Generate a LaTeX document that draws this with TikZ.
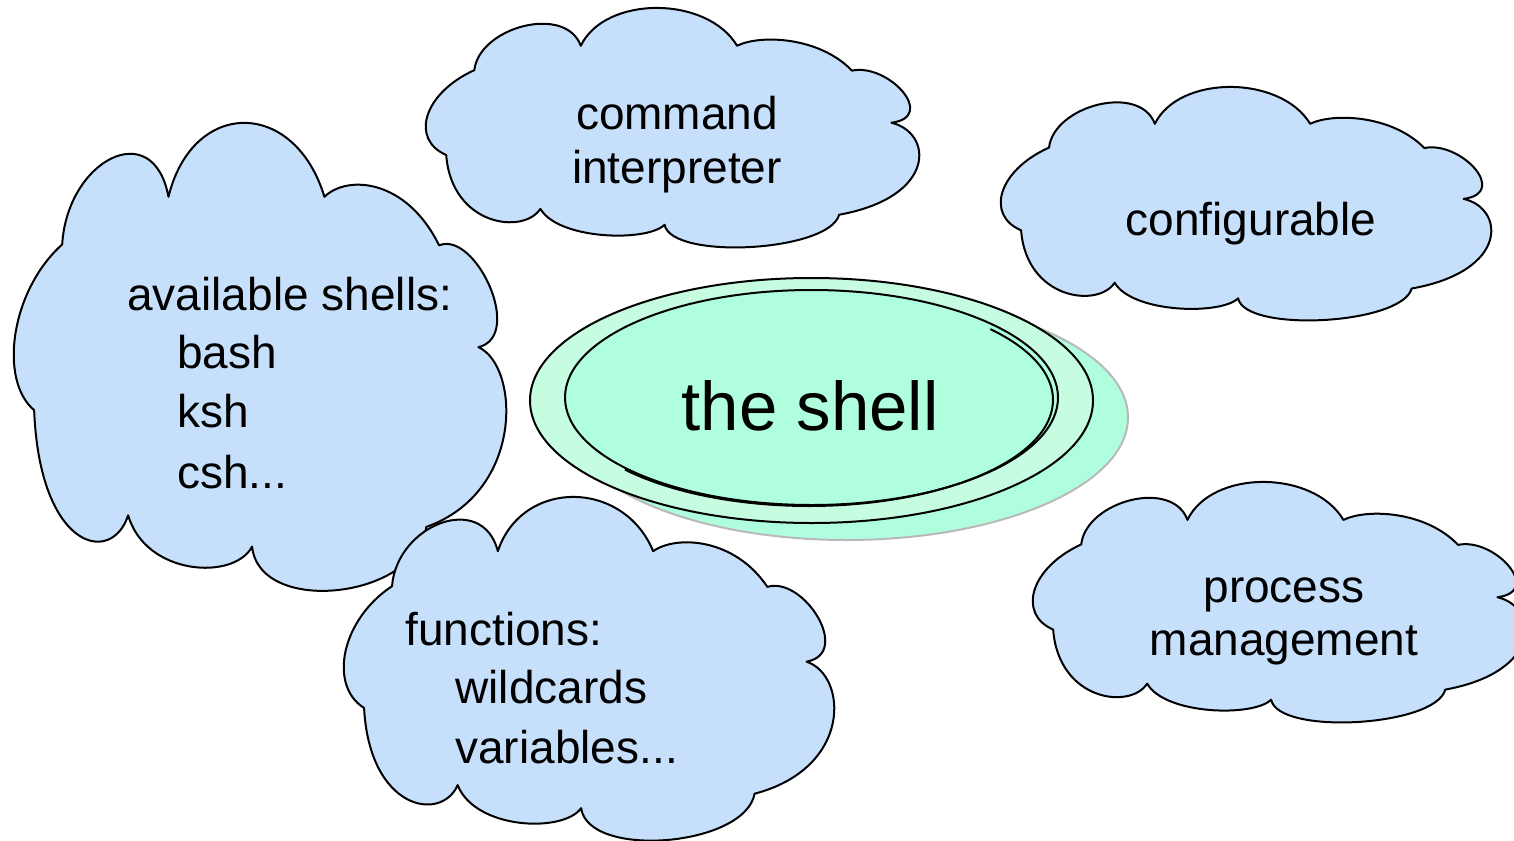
\documentclass[tikz,border=0pt]{standalone}
\usepackage{fontspec}
\setmainfont{Liberation Sans}
\definecolor{cloudblue}{RGB}{198,224,252}
\definecolor{shellgreen}{RGB}{175,254,222}
\definecolor{ringgreen}{RGB}{198,252,224}
\definecolor{shadowgray}{RGB}{185,185,185}
% cloud outline, scaled into the box with top left corner (#2,#3), size #4 x #5
\def\cloud[#1](#2,#3)(#4:#5){\draw[#1,shift={(#2,#3)},xscale=#4/100,yscale=#5/100]
	(10,26) .. controls (11,8) and (28.5,-1.7) .. (31.6,15.8)
	.. controls (36.5,-5.3) and (57.2,-5.3) .. (63.3,15.8)
	.. controls (68,11) and (80,12) .. (86.6,26.2)
	.. controls (94,23) and (104,45.6) .. (94.6,48)
	.. controls (103,52) and (104,79) .. (84,86.5)
	.. controls (82,102) and (50,105.6) .. (48.6,90.7)
	.. controls (45,98) and (27,97) .. (23.4,84)
	.. controls (20,95) and (5.4,91.2) .. (4.3,61.5)
	.. controls (-3,55) and (-0.4,35.8) .. (10,26) -- cycle;}
\tikzset{
	cloudline/.style={fill=cloudblue,draw=black,line width=1pt,line join=round},
	lbl/.style={font=\fontsize{23}{28}\selectfont,inner sep=0pt},
	biglbl/.style={font=\fontsize{34.5}{40}\selectfont,inner sep=0pt}
}

\begin{document}
\begin{tikzpicture}[x=0.5pt,y=-0.5pt]
	%%%%% START %%%%%
	\def\cx{811.5}
	\def\cy{399}
	\def\radout{281.5}
	\def\radin{246.5}
	\def\dx{35}
	\def\dy{17}

	\useasboundingbox (0,0) rectangle (1514,840);
	\clip (0,0) rectangle (1514,840);

	% clouds
	\cloud[cloudline](425,8)(493:239)
	\cloud[cloudline](1000,87)(490:233)
	\cloud[cloudline](13,123)(492:467)
	\cloud[cloudline](343,497)(490:343)
	\cloud[cloudline](1032,482)(492:240)

	% the shell
	\draw[shadowgray,line width=1pt,fill=shellgreen] (\cx+\dx,\cy+1.5+\dy) ellipse [x radius=\radout, y radius=122.5];
	\draw[line width=1pt,fill=ringgreen] (\cx,\cy+1.5) ellipse [x radius=\radout, y radius=122.5];
	\draw[line width=1pt,fill=shellgreen] (\cx,\cy-1.5) ellipse [x radius=\radin, y radius=107.5];
	\draw[line width=1pt] (\cx-2.5,\cy+1) ++(-42:244 and 106) arc [start angle=-42, end angle=139, x radius=244, y radius=106];

	% texts
	\node[lbl,anchor=base] (cmd) at (677,130) {command};
	\node[lbl,anchor=base] (interp) at (677,183) {interpreter};
	\node[lbl,anchor=base] (conf) at (1251,235) {configurable};
	\node[lbl,anchor=base west] (avail) at (127,310) {available shells:};
	\node[lbl,anchor=base west] (bash) at (177,368) {bash};
	\node[lbl,anchor=base west] (ksh) at (177,427) {ksh};
	\node[lbl,anchor=base west] (csh) at (177,488) {csh...};
	\node[lbl,anchor=base west] (func) at (405,645) {functions:};
	\node[lbl,anchor=base west] (wild) at (455,703) {wildcards};
	\node[lbl,anchor=base west] (vars) at (455,763) {variables...};
	\node[lbl,anchor=base] (proc) at (1284,602) {process};
	\node[lbl,anchor=base] (mgmt) at (1284,655) {management};
	\node[biglbl,anchor=base] (shell) at (810,430) {the shell};
	%%%%% END %%%%%
\end{tikzpicture}
\end{document}
